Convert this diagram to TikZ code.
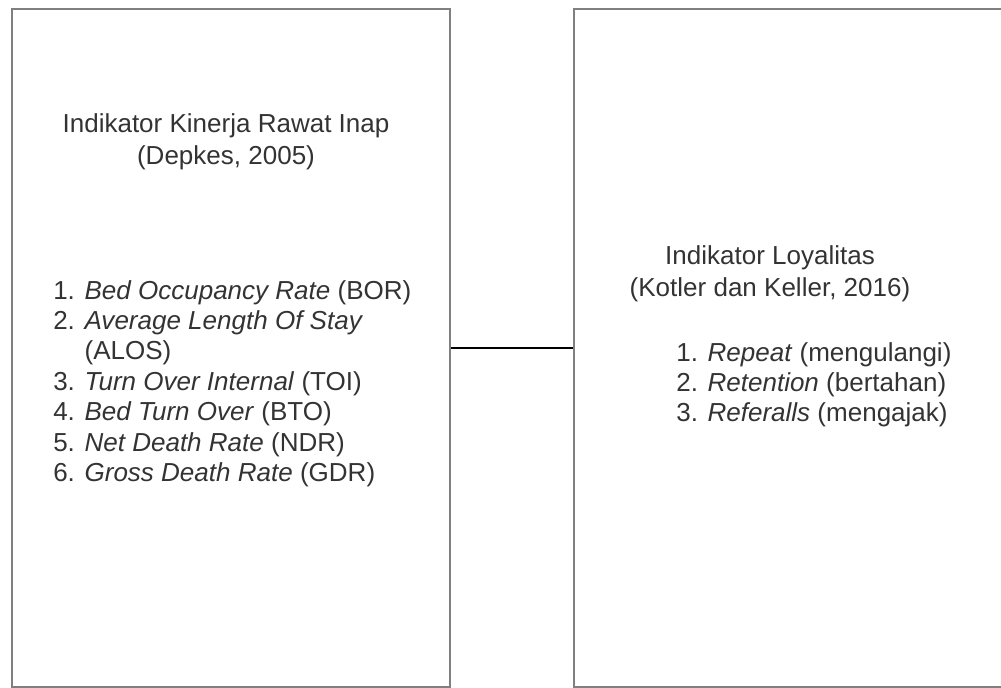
\documentclass[tikz,border=0pt]{standalone}
\usepackage{fontspec}
\setmainfont{Liberation Sans}
\usepackage{xcolor}
\usepackage{tikz}
\usetikzlibrary{positioning,calc}

\begin{document}
\begin{tikzpicture}[
    x=0.025cm, y=-0.025cm,
    panel/.style={rectangle, draw=black!50, line width=1.4pt, inner sep=0pt, anchor=north west},
    label/.style={inner sep=0pt, text=black!80, font=\fontsize{18.5}{21.6}\selectfont},
    heading/.style={label, align=center, font=\fontsize{18.5}{22.8}\selectfont},
    link/.style={line width=1.4pt, black}
]
    \useasboundingbox (0,0) rectangle (1001,687);

    % Two panels
    \node[panel, minimum width=438*0.025cm, minimum height=678*0.025cm] (kinerja) at (11,8) {};
    \node[panel, minimum width=440*0.025cm, minimum height=678*0.025cm] (loyalitas) at (573,8) {};

    % Left panel text
    \node[heading] (kinerjaTitle) at (226,142) {Indikator Kinerja Rawat Inap\\(Depkes, 2005)};
    \node[label, align=left, anchor=north west] (kinerjaList) at (53,280) {%
        1. \textit{Bed Occupancy Rate} (BOR)\\
        2. \textit{Average Length Of Stay}\\
        \phantom{2. }(ALOS)\\
        3. \textit{Turn Over Internal} (TOI)\\
        4. \textit{Bed Turn Over} (BTO)\\
        5. \textit{Net Death Rate} (NDR)\\
        6. \textit{Gross Death Rate} (GDR)};

    % Right panel text
    \node[heading] (loyalitasTitle) at (770,274) {Indikator Loyalitas\\(Kotler dan Keller, 2016)};
    \node[label, align=left, anchor=north west] (loyalitasList) at (676,342) {%
        1. \textit{Repeat} (mengulangi)\\
        2. \textit{Retention} (bertahan)\\
        3. \textit{Referalls} (mengajak)};

    % Connector
    \draw[link] (kinerja) -- (loyalitas);
\end{tikzpicture}
\end{document}
